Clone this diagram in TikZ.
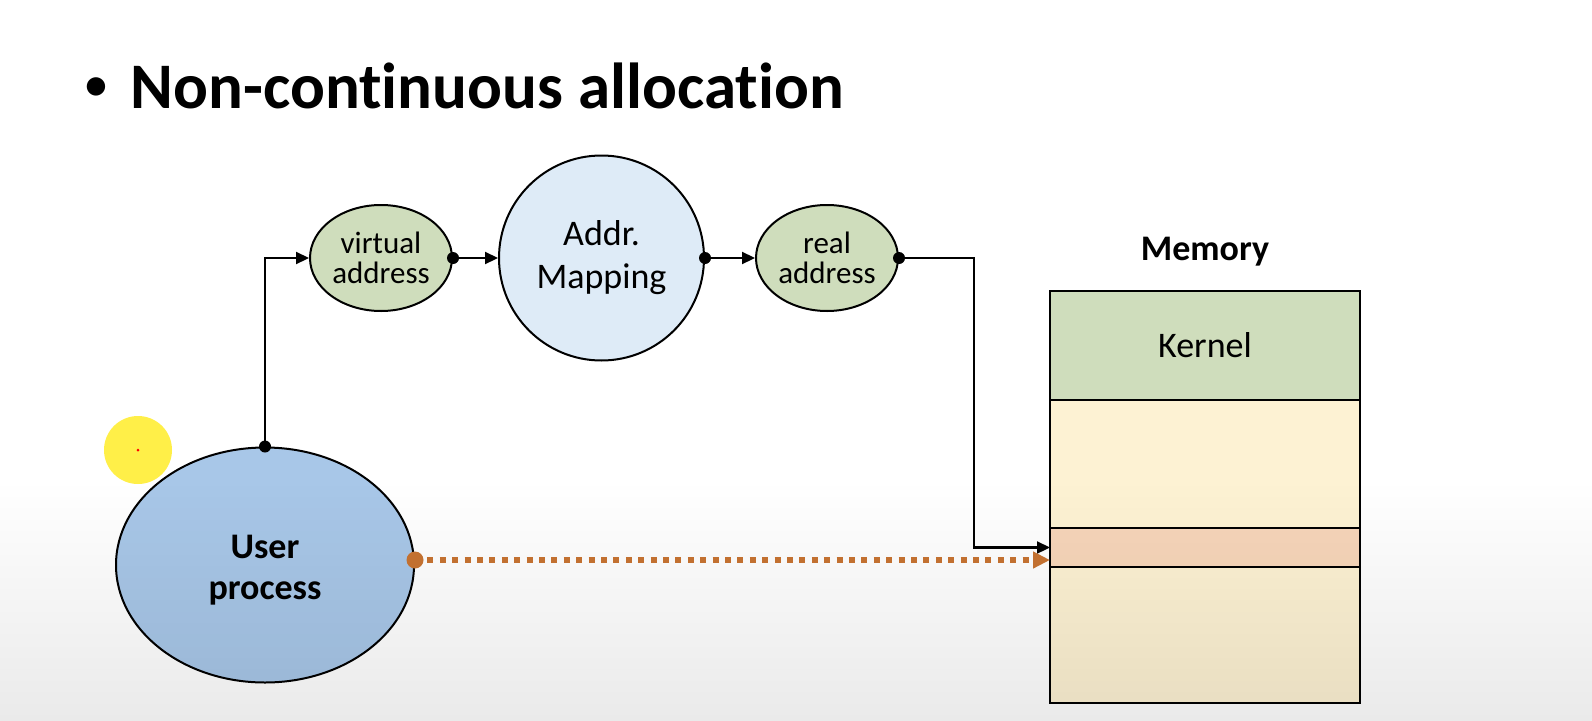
\documentclass[tikz,border=0pt]{standalone}
\usepackage{fontspec}
\setmainfont{Carlito}[Ligatures=NoCommon]
\usetikzlibrary{shapes.geometric}
\usetikzlibrary{positioning}
\usetikzlibrary{arrows.meta}
\usetikzlibrary{fadings}
\definecolor{addrgreen}{RGB}{207,221,188}
\definecolor{mapblue}{RGB}{222,235,247}
\definecolor{procblue}{RGB}{168,199,232}
\definecolor{freeyellow}{RGB}{253,242,211}
\definecolor{slotorange}{RGB}{247,214,186}
\definecolor{refbrown}{RGB}{200,116,50}
\definecolor{cursor}{RGB}{255,239,72}
\tikzstyle{addr} = [ellipse, minimum width=142pt, minimum height=106pt, inner sep=0pt, align=center, draw=black, line width=2pt, fill=addrgreen, font=\fontsize{31}{30}\selectfont]
\tikzstyle{mapper} = [circle, minimum size=205pt, inner sep=0pt, align=center, draw=black, line width=2pt, fill=mapblue, font=\fontsize{36}{43}\selectfont]
\tikzstyle{proc} = [ellipse, minimum width=298pt, minimum height=235pt, inner sep=0pt, align=center, draw=black, line width=2pt, fill=procblue, font=\bfseries\fontsize{36}{43}\selectfont]
\tikzstyle{block} = [rectangle, minimum width=310pt, inner sep=0pt, outer sep=0pt, draw=black, line width=2.2pt, font=\fontsize{36}{43}\selectfont]
\tikzstyle{arrow} = [line width=2.2pt, -{Triangle[length=13pt,width=12pt]}]
\tikzstyle{refarrow} = [refbrown, line width=6pt, dash pattern=on 6pt off 6.4pt, -{Triangle[length=17pt,width=16pt]}]

\begin{document}
\begin{tikzpicture}[x=1pt, y=-1pt]
    \useasboundingbox (0,0) rectangle (1592,720);
    \fill[white] (0,0) rectangle (1592,720);
    \node[anchor=base west, font=\bfseries\fontsize{65}{78}\selectfont] (title) at (77,108) {\makebox[32pt]{\raisebox{7pt}{\mdseries\fontsize{52}{52}\selectfont\textbullet}}\hspace{18pt}Non-continuous allocation};
    % pointer highlight
    \fill[cursor] (138,450) circle (34pt);
    \fill[red] (138,450) circle (1.5pt);
    \node[proc] (up) at (265,565) {\raisebox{-5pt}[\height][\depth]{\begin{tabular}{@{}c@{}}User\\[-2pt]process\end{tabular}}};
    \node[addr] (va) at (381,258) {virtual\\address};
    \node[mapper, right=45pt of va] (map) {Addr.\\Mapping};
    \node[addr, right=50pt of map] (ra) {real\\address};
    \node[block, fill=addrgreen, minimum height=109pt, anchor=north west] (kern) at (1050,291) {Kernel};
    \node[block, fill=freeyellow, minimum height=128pt, below=0pt of kern] (free1) {};
    \node[block, fill=slotorange, minimum height=39pt, below=0pt of free1] (slot) {};
    \node[block, fill=freeyellow, minimum height=136pt, below=0pt of slot] (free2) {};
    \node[font=\bfseries\fontsize{36}{43}\selectfont] (mem) at ([yshift=39pt]kern.north) {Memory};
    \draw[arrow] (up.north) |- (va.west);
    \draw[arrow] (va.east) -- (map.west);
    \draw[arrow] (map.east) -- (ra.west);
    \draw[arrow] (ra.east) -| ([xshift=-76pt]slot.west) -- (slot.west);
    \foreach \p in {up.north, va.east, map.east, ra.east}
        \fill (\p) circle (6pt);
    \draw[refarrow] ([yshift=5pt]up.east) -- ([yshift=5pt]up.east -| slot.west);
    \fill[refbrown] ([yshift=5pt]up.east) circle (8.5pt);
    % video shade at the bottom
    \fill[black, opacity=0.11, path fading=north] (0,480) rectangle (1592,800);
\end{tikzpicture}
\end{document}
